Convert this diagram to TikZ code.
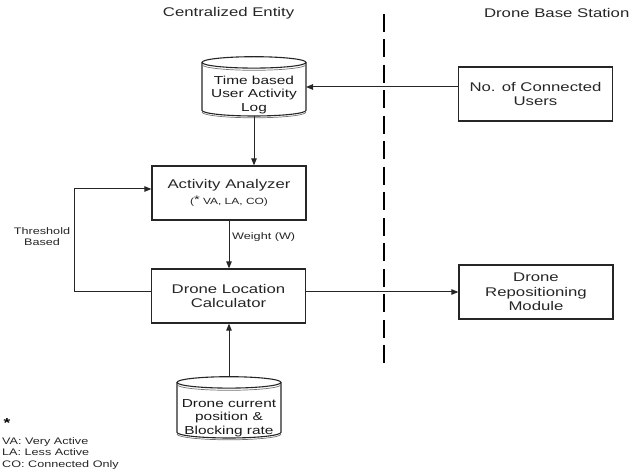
\documentclass[tikz,border=0pt]{standalone}
\usepackage{fontspec}
\setmainfont{Liberation Sans}[FakeStretch=1.33]
\usetikzlibrary{arrows.meta,calc}
\newcommand\bigf{\fontsize{12.6}{14.5}\selectfont}
\newcommand\cylf{\fontsize{11.6}{13.3}\selectfont}
\newcommand\smallf{\fontsize{9.5}{10.8}\selectfont}
\newcommand\subf{\fontsize{9}{10}\selectfont}
\newcommand\mystar{\raisebox{1.5pt}{\fontsize{11}{11}\selectfont *}}
\newcommand\mycyl[5]{%
  \pgfmathsetmacro\cxc{(#1+#2)/2}%
  \pgfmathsetmacro\crx{(#2-#1)/2}%
  \pgfmathsetmacro\cyt{#3+#5}%
  \pgfmathsetmacro\cyb{#4-#5}%
  \pgfmathsetmacro\ck{0.5523}%
  \draw[cylst] (\cxc,\cyt) ellipse[x radius=\crx, y radius=#5];
  \draw[cylst] (#1,\cyt) -- (#1,\cyb)
    .. controls (#1,{\cyb+\ck*#5}) and ({\cxc-\ck*\crx},{\cyb+#5}) .. (\cxc,{\cyb+#5})
    .. controls ({\cxc+\ck*\crx},{\cyb+#5}) and (#2,{\cyb+\ck*#5}) .. (#2,\cyb) -- (#2,\cyt);
  \draw[cylsh] (#1,{\cyt+2.2})
    .. controls (#1,{\cyt+2.2+\ck*#5}) and ({\cxc-\ck*\crx},{\cyt+2.2+#5}) .. (\cxc,{\cyt+2.2+#5})
    .. controls ({\cxc+\ck*\crx},{\cyt+2.2+#5}) and (#2,{\cyt+2.2+\ck*#5}) .. (#2,{\cyt+2.2});
  \draw[cylsh] (#1,{\cyb+1.8})
    .. controls (#1,{\cyb+1.8+\ck*#5}) and ({\cxc-\ck*\crx},{\cyb+1.8+#5}) .. (\cxc,{\cyb+1.8+#5})
    .. controls ({\cxc+\ck*\crx},{\cyb+1.8+#5}) and (#2,{\cyb+1.8+\ck*#5}) .. (#2,{\cyb+1.8});
}
\begin{document}
\begin{tikzpicture}[x=1pt,y=-1pt,
  box/.style={draw=black!85, line width=1.2pt, minimum width=154pt, minimum height=54pt,
    align=center, inner sep=0pt, font=\bigf, text=black!85},
  cyltext/.style={align=center, inner sep=0pt, font=\cylf, text=black!90},
  cylst/.style={draw=black!85, line width=1.1pt},
  cylsh/.style={draw=black!55, line width=0.7pt},
  conn/.style={draw=black!85, line width=1pt},
  arr/.style={conn, -{Triangle[length=7pt,width=5.5pt]}},
  title/.style={font=\bigf, text=black!85, inner sep=0pt},
  small/.style={font=\smallf, text=black!85, inner sep=0pt, align=center},
  divider/.style={draw=black, line width=1.3pt, dash pattern=on 18pt off 7.5pt}
]
\useasboundingbox (0,0) rectangle (641,476);

% titles
\node[title] (t1) at (228.6,13.3) {Centralized Entity};
\node[title] (t2) at (556.7,13.3) {Drone Base Station};

% divider
\coordinate (d1) at (384,14);
\coordinate (d2) at (384,369);
\draw[divider] (d1) -- (d2);

% cylinders
\mycyl{202}{306}{56.7}{116}{5.7}
\mycyl{177}{281}{376.7}{438}{5.7}
\node[cyltext] (c1) at (254,95) {Time based\\User Activity\\Log};
\node[cyltext] (c2) at (229,418) {Drone current\\position \&\\Blocking rate};
\coordinate (c1e) at (306,87);
\coordinate (c1b) at (254,116);
\coordinate (c2t) at (229,376.7);

% boxes
\node[box] (ncu) at (535.5,94) {No. of Connected\\Users};
\node[box] (aa) at (229,193) {Activity Analyzer\\[2pt]{\subf (\mystar\ VA, LA, CO)}};
\node[box] (dlc) at (228.5,296) {Drone Location\\Calculator};
\node[box] (drm) at (536,292) {Drone\\Repositioning\\Module};

% connectors
\draw[arr] (ncu.west |- c1e) -- (c1e);
\draw[arr] (c1b) -- (c1b |- aa.north);
\draw[arr] (aa.south) -- (aa.south |- dlc.north);
\draw[arr] (c2t) -- (c2t |- dlc.south);
\draw[arr] (dlc.east |- drm.west) -- (drm.west);
\coordinate (aain) at ($(aa.west)+(0,-4)$);
\draw[arr] (dlc.west |- drm.west) -| (74.5,200) |- (aain);

% labels
\node[small, anchor=west] (w) at (232,237) {Weight (W)};
\node[small] (th) at (42,237) {Threshold\\Based};

% legend
\node[font=\fontsize{13}{13}\selectfont\bfseries, inner sep=0pt] (ls) at (7,423) {*};
\node[small, anchor=west] (l1) at (2,441.7) {VA: Very Active};
\node[small, anchor=west] (l2) at (2,452.3) {LA: Less Active};
\node[small, anchor=west] (l3) at (2,465) {CO: Connected Only};
\end{tikzpicture}
\end{document}
